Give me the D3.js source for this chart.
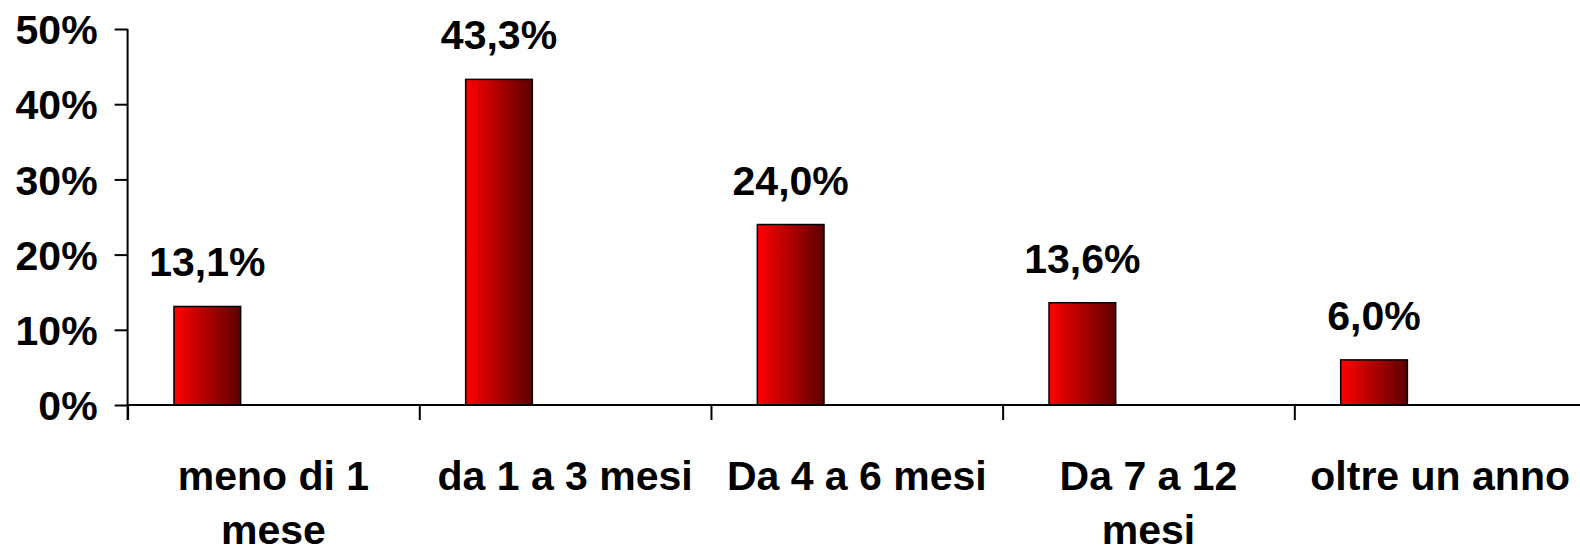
<!DOCTYPE html>
<html lang="it">
<head>
    <meta charset="UTF-8">
    <title>Durata</title>
    <script src="https://d3js.org/d3.v7.min.js"></script>
    <style>
        body { margin: 0; background: #fff; }
        svg text {
            font-family: "Liberation Sans", Arial, sans-serif;
            font-weight: bold;
            font-size: 41px;
            fill: #000;
        }
        .axis path, .axis line { stroke: #000; stroke-width: 2px; }
        .bar { stroke: #000; stroke-width: 1.5px; }
    </style>
</head>
<body>
    <svg width="1580" height="553"></svg>
    <script>
        // dati
        const categories = ['meno di 1 mese', 'da 1 a 3 mesi', 'Da 4 a 6 mesi', 'Da 7 a 12 mesi', 'oltre un anno'];
        const categoryLines = [['meno di 1', 'mese'], ['da 1 a 3 mesi'], ['Da 4 a 6 mesi'], ['Da 7 a 12', 'mesi'], ['oltre un anno']];
        const values = [13.1, 43.3, 24.0, 13.6, 6.0];
        const valueLabels = ['13,1%', '43,3%', '24,0%', '13,6%', '6,0%'];
        const yTicks = [0, 10, 20, 30, 40, 50];

        const svg = d3.select('svg');
        const plotLeft = 127.6, plotRight = 1586, plotTop = 29, plotBottom = 405;

        const x = d3.scaleBand().domain(categories).range([plotLeft, plotRight]).paddingInner(0).paddingOuter(0);
        const xEdges = d3.scaleLinear().domain([0, categories.length]).range([plotLeft, plotRight]);
        const y = d3.scaleLinear().domain([0, 50]).range([plotBottom, plotTop]);

        // gradiente delle barre
        const grad = svg.append('defs').append('linearGradient')
            .attr('id', 'redgrad').attr('x1', '0%').attr('x2', '100%').attr('y1', '0%').attr('y2', '0%');
        grad.append('stop').attr('offset', '0%').attr('stop-color', '#ff0000');
        grad.append('stop').attr('offset', '100%').attr('stop-color', '#5c0000');

        const barOffset = x.bandwidth() * 0.159;
        const barWidth = x.bandwidth() * 0.2286;

        // barre
        svg.append('g').selectAll('rect')
            .data(categories)
            .enter().append('rect')
            .attr('class', 'bar')
            .attr('x', d => x(d) + barOffset)
            .attr('y', (d, i) => y(values[i]))
            .attr('width', barWidth)
            .attr('height', (d, i) => plotBottom - y(values[i]))
            .attr('fill', 'url(#redgrad)');

        // etichette dei valori
        svg.append('g').selectAll('text')
            .data(categories)
            .enter().append('text')
            .attr('x', d => x(d) + barOffset + barWidth / 2)
            .attr('y', (d, i) => y(values[i]) - 30)
            .attr('text-anchor', 'middle')
            .text((d, i) => valueLabels[i]);

        // asse y
        const yAxis = svg.append('g')
            .attr('class', 'axis')
            .attr('transform', `translate(${plotLeft},0)`)
            .call(d3.axisLeft(y).tickValues(yTicks).tickSize(13).tickPadding(17).tickFormat(d => d + '%'));
        yAxis.select('.domain').attr('d', `M0,${plotTop}V${plotBottom + 15}`);
        yAxis.selectAll('text').attr('dy', '0.36em').style('font-size', '41px').style('font-family', '"Liberation Sans", Arial, sans-serif');

        // asse x
        const xAxis = svg.append('g')
            .attr('class', 'axis')
            .attr('transform', `translate(0,${plotBottom})`)
            .call(d3.axisBottom(xEdges).tickValues(d3.range(0, categories.length)).tickSize(15).tickFormat(''));
        xAxis.select('.domain').attr('d', `M${plotLeft},0H${plotRight}`);

        // etichette delle categorie
        const catText = svg.append('g').selectAll('text')
            .data(categories)
            .enter().append('text')
            .attr('text-anchor', 'middle')
            .attr('x', d => x(d) + x.bandwidth() / 2)
            .attr('y', 490);
        catText.selectAll('tspan')
            .data((d, i) => categoryLines[i])
            .enter().append('tspan')
            .attr('x', function () { return d3.select(this.parentNode).attr('x'); })
            .attr('dy', (d, j) => j === 0 ? 0 : 54)
            .text(d => d);
    </script>
</body>
</html>
